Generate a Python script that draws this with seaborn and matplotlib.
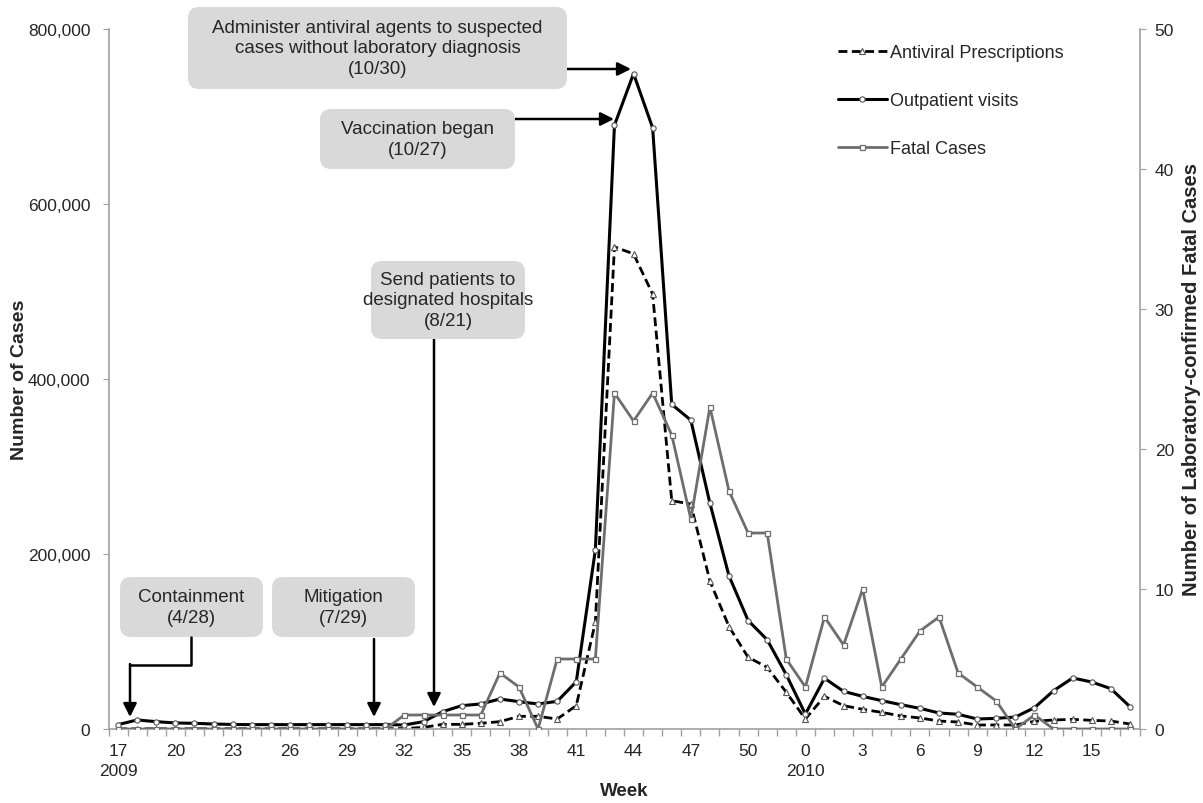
import numpy as np
import pandas as pd
import seaborn as sns
import matplotlib.pyplot as plt
from matplotlib.patches import FancyBboxPatch
from matplotlib.lines import Line2D
from matplotlib.transforms import IdentityTransform
from matplotlib.ticker import FuncFormatter

# week numbers: 2009 wk17-52, then 2010 wk0-17
weeks = list(range(17, 53)) + list(range(0, 18))

outpatient = [5000, 10300, 8400, 6900, 6500, 5700, 5200, 5000, 5000, 5000,
              5000, 5000, 5000, 5000, 5000, 4600, 8400, 19800, 26700, 28600,
              34300, 31200, 28600, 31600, 54000, 204600, 690000, 749000, 687000, 371000,
              353000, 258000, 175000, 124000, 102000, 62000, 17000, 58000, 43000, 37300,
              32400, 27800, 23600, 18300, 16800, 11400, 12200, 13700, 24400, 43800,
              58300, 53700, 46100, 25500]

antiviral = [200, 200, 200, 200, 200, 200, 200, 200, 200, 200,
             200, 200, 200, 200, 300, 500, 1900, 5300, 5300, 6500,
             8400, 14500, 14500, 11400, 26700, 122000, 551000, 543000, 497000, 261000,
             257000, 169000, 117000, 82000, 70500, 42000, 11400, 37300, 26700, 22500,
             19000, 14900, 12600, 9100, 8000, 4600, 4600, 4600, 8800, 10300,
             11000, 9900, 9100, 5700]

fatal = [0, 0, 0, 0, 0, 0, 0, 0, 0, 0,
         0, 0, 0, 0, 0, 1, 1, 1, 1, 1,
         4, 3, 0, 5, 5, 5, 24, 22, 24, 21,
         15, 23, 17, 14, 14, 5, 3, 8, 6, 10,
         3, 5, 7, 8, 4, 3, 2, 0, 1, 0,
         0, 0, 0, 0]

df = pd.DataFrame({
    "idx": np.arange(len(weeks)),
    "week": weeks,
    "Antiviral Prescriptions": antiviral,
    "Outpatient visits": outpatient,
    "Fatal Cases": fatal,
})

sns.set_style("ticks")
plt.rcParams["font.family"] = ["Liberation Sans", "DejaVu Sans"]

W, H = 1203, 804
fig = plt.figure(figsize=(W / 100, H / 100), dpi=100)
ax = fig.add_axes([108.5 / W, 74 / H, 1031 / W, 700 / H])
ax2 = ax.twinx()

GRAY = "#6e6e6e"
AXC = "#a0a0a0"

sns.lineplot(data=df, x="idx", y="Antiviral Prescriptions", ax=ax, color="black",
             linestyle=(0, (3.2, 1.6)), linewidth=2.0, marker="^", markersize=5,
             markerfacecolor="white", markeredgecolor="#555555", markeredgewidth=0.8,
             label="Antiviral Prescriptions")
sns.lineplot(data=df, x="idx", y="Outpatient visits", ax=ax, color="black",
             linewidth=2.2, marker="o", markersize=3.8,
             markerfacecolor="white", markeredgecolor="#555555", markeredgewidth=0.8,
             label="Outpatient visits")
sns.lineplot(data=df, x="idx", y="Fatal Cases", ax=ax2, color=GRAY,
             linewidth=2.0, marker="s", markersize=3.6,
             markerfacecolor="white", markeredgecolor=GRAY, markeredgewidth=0.9,
             label="Fatal Cases")
for a in (ax, ax2):
    if a.get_legend() is not None:
        a.get_legend().remove()

# axes
ax.set_xlim(-0.5, len(weeks) - 0.5)
ax.set_ylim(0, 800000)
ax2.set_ylim(0, 50)
ax.set_yticks(range(0, 800001, 200000))
ax.yaxis.set_major_formatter(FuncFormatter(lambda v, p: f"{int(v):,}"))
ax2.set_yticks(range(0, 51, 10))

major = list(range(0, len(weeks), 3))
labels = []
for i in major:
    lab = str(weeks[i])
    if i == 0:
        lab += "\n2009"
    elif weeks[i] == 0:
        lab += "\n2010"
    labels.append(lab)
ax.set_xticks(major)
ax.set_xticklabels(labels, fontsize=12.5, linespacing=1.45)
ax.set_xticks(np.arange(-0.5, len(weeks), 1), minor=True)
ax.tick_params(axis="x", which="major", length=0, pad=10)
ax.tick_params(axis="x", which="minor", length=5, color=AXC, width=1)
ax.tick_params(axis="y", length=4, color=AXC, labelsize=12.5, pad=9)
ax2.tick_params(axis="y", length=4, color=AXC, labelsize=12.5, pad=7)

for a in (ax, ax2):
    a.spines["top"].set_visible(False)
    for s in ("left", "right", "bottom"):
        a.spines[s].set_color(AXC)
        a.spines[s].set_linewidth(1.2)
ax.spines["right"].set_visible(False)
ax2.spines["left"].set_visible(False)
ax2.spines["bottom"].set_visible(False)

ax.set_xlabel("Week", fontsize=13.5, fontweight="bold", labelpad=3)
ax.set_ylabel("Number of Cases", fontsize=14, fontweight="bold", labelpad=0)
ax2.set_ylabel("Number of Laboratory-confirmed Fatal Cases", fontsize=14.5,
               fontweight="bold", labelpad=6)

# legend
h1, l1 = ax.get_legend_handles_labels()
h2, l2 = ax2.get_legend_handles_labels()
ax2.legend(h1 + h2, l1 + l2, loc="upper left", bbox_to_anchor=(838 / W, 1 - 45 / H),
           bbox_transform=fig.transFigure, frameon=False, fontsize=13,
           handlelength=2.7, handletextpad=0.2, labelspacing=1.72,
           borderpad=0, borderaxespad=0)

# annotation boxes (pixel coords, origin top-left)
px = IdentityTransform()


def box(x0, y0, x1, y1, text):
    fig.add_artist(FancyBboxPatch((x0, H - y1), x1 - x0, y1 - y0,
                                  boxstyle="round,pad=0,rounding_size=11",
                                  transform=px, facecolor="#d9d9d9",
                                  edgecolor="none", zorder=5))
    fig.text((x0 + x1) / 2, H - (y0 + y1) / 2, text, transform=px,
             ha="center", va="center", fontsize=13.5, linespacing=1.3, zorder=6)


def arrow(xs, ys, xe, ye):
    ax2.annotate("", xy=(xe, H - ye), xycoords=px, xytext=(xs, H - ys), textcoords=px,
                 arrowprops=dict(arrowstyle="-|>", color="black", lw=1.8,
                                 mutation_scale=20, shrinkA=0, shrinkB=0), zorder=7)


box(188, 8, 567, 90, "Administer antiviral agents to suspected\ncases without laboratory diagnosis\n(10/30)")
box(320, 110, 515, 170, "Vaccination began\n(10/27)")
box(371, 262, 525, 340, "Send patients to\ndesignated hospitals\n(8/21)")
box(120, 578, 263, 638, "Containment\n(4/28)")
box(272, 578, 415, 638, "Mitigation\n(7/29)")

arrow(567, 70, 631, 70)
arrow(515, 120, 614, 120)
arrow(434, 340, 434, 708)
arrow(374, 640, 374, 718)
# elbow connector for Containment
fig.add_artist(Line2D([191, 191, 130], [H - 638, H - 666, H - 666], transform=px,
                      color="black", lw=1.8, zorder=7))
arrow(130, 665, 130, 718)

fig.savefig("out.png", dpi=100)
